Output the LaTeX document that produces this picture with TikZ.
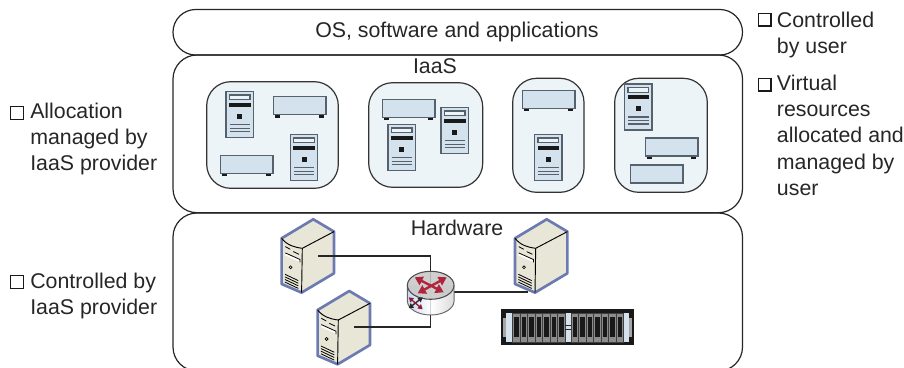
\documentclass[tikz,border=0pt]{standalone}
\usepackage{fontspec}
\setmainfont{Liberation Sans}
\usetikzlibrary{arrows.meta, calc}
\definecolor{lightVm}{RGB}{237, 244, 248}
\definecolor{lightBox}{RGB}{211, 226, 236}
\definecolor{darkBox}{RGB}{85, 97, 108}
\definecolor{darkSrv}{RGB}{108, 122, 178}
\definecolor{lightSrv}{RGB}{232, 230, 214}
\definecolor{darkArrow}{RGB}{176, 36, 60}
\tikzset{
  layerbox/.style={draw=black!85, line width=0.9pt, rounded corners=18pt},
  vmbox/.style={draw=black!80, fill=lightVm, line width=0.9pt, rounded corners=18pt},
  label/.style={font=\fontsize{16}{19.6}\selectfont, inner sep=0pt, text=black!85},
  note/.style={label, anchor=north west, align=left},
  tick/.style={draw=black!90, line width=1.1pt, minimum size=9.5pt, inner sep=0pt, anchor=north west},
  wire/.style={draw=black!85, line width=0.8pt},
  slab/.pic={
    \draw[draw=darkBox, fill=lightBox, line width=1.1pt] (-26.3,-9) rectangle (26.3,9);
  },
  slabfeet/.pic={
    \pic {slab};
    \fill[black!90] (-25.2,9.5) rectangle (-20.2,11.8);
    \fill[black!90] (19.2,9.5) rectangle (24.2,11.8);
  },
  tower/.pic={
    \draw[draw=darkBox, fill=lightBox, line width=1.1pt] (-13.7,-23) rectangle (13.7,23);
    \draw[draw=darkBox, fill=lightVm, line width=0.9pt] (-10.3,-19.7) rectangle (10.3,-14.9);
    \fill[black!90] (-10.6,-12) rectangle (11,-7.7);
    \fill[black!90] (-2.5,-0.8) rectangle (2.5,4.2);
    \foreach \ly in {10,13.6,17}
      \draw[draw=darkBox, line width=0.8pt] (-10,\ly) -- (10.3,\ly);
  },
  server/.pic={
    \path[draw=darkSrv, fill=lightSrv, line width=2pt, line join=round]
      (-20.7,-10) -- (11,-29) -- (31.7,-16.7) -- (31.7,25) -- (-0.7,44.3) -- (-20.7,35.7) -- cycle;
    \draw[black, line width=0.7pt] (-20.7,-10) .. controls (-15,-3) and (-8,-1) .. (0,0)
      -- (31.7,-16.7);
    \draw[black, line width=0.7pt] (0,0) -- (-0.7,44.3);
    \draw[black, line width=0.6pt] (-17,-1.7) -- (-12,1);
    \draw[black, line width=0.6pt] (-9,3.3) -- (-3.3,6);
    \draw[white, line width=1.6pt] (-17,6) -- (-2.3,12.6);
    \draw[black, line width=0.6pt] (-17,4.6) -- (-2.3,11.2) -- (-2.3,14);
    \draw[black, line width=0.5pt] (-11.7,19) circle [radius=1.1pt];
    \foreach \ly in {0,2.6,5.2,7.8}
      \draw[black, line width=0.6pt] (-17.3,26+\ly) -- (-4,32.3+\ly);
  },
  router/.pic={
    \path[left color=lightBox!90!blue, right color=black!18, middle color=white, opacity=0.8]
      (-23.3,0) -- (-23.3,15.7) arc[start angle=180, end angle=360, x radius=17.5pt, y radius=10.5pt]
      -- (23.3,0) -- cycle;
    \draw[draw=black!60, line width=0.7pt]
      (-23.3,0) -- (-23.3,15.7) arc[start angle=180, end angle=360, x radius=17.5pt, y radius=10.5pt]
      -- (23.3,0);
    \path[draw=black!70, fill=black!22, line width=0.8pt, fill opacity=0.85] (0,0) ellipse [x radius=17.5pt, y radius=10.5pt];
    \draw[darkArrow, line width=1.8pt, {Triangle[length=6pt,width=7pt]}-{Triangle[length=6pt,width=7pt]}] (-13,8) -- (16,-8);
    \draw[darkArrow, line width=1.8pt, {Triangle[length=6pt,width=7pt]}-{Triangle[length=6pt,width=7pt]}] (-16,-8) -- (13,7);
    \draw[black!85, line width=1pt, {Triangle[length=3.5pt,width=4pt]}-{Triangle[length=3.5pt,width=4pt]}] (-22,23) -- (-8,12);
    \draw[darkArrow!80!black, line width=1pt, {Triangle[length=3.5pt,width=4pt]}-{Triangle[length=3.5pt,width=4pt]}] (-22,12) -- (-8,24);
  },
  storage/.pic={
    \fill[black!90] (0,0) rectangle (132.5,36);
    \fill[lightBox] (5,3.3) rectangle (128,33);
    \fill[black!35] (1.7,9) rectangle (5,28);
    \fill[black!35] (128,9) rectangle (131.2,28);
    \foreach \gx in {11.3,70}
      \foreach \dn in {0,...,6} {
        \draw[draw=black!75, fill=black!45, line width=0.4pt] ({\gx+\dn*7.5},4) rectangle ++(7.5,29.4);
        \fill[black!90] ({\gx+\dn*7.5+1.5},7.4) rectangle ++(4.5,20.6);
      }
    \draw[black!85, line width=0.8pt] (64,16) -- (70,16);
    \draw[black!85, line width=0.8pt] (64,20.4) -- (70,20.4);
  }
}

\begin{document}
\begin{tikzpicture}[x=0.75pt, y=-0.75pt]
  \useasboundingbox (0,0) rectangle (904,368);

  \draw[layerbox, rounded corners=17pt] (173,9.5) rectangle (742.5,55);
  \draw[layerbox] (173,55) rectangle (742.5,212.7);
  \draw[layerbox] (173,213) rectangle (742.5,371);

  \node[label] (osLabel) at (457,32) {OS, software and applications};
  \node[label] (iaasLabel) at (435,66) {IaaS};
  \node[label] (hwLabel) at (457,228) {Hardware};

  \draw[vmbox] (206.7,81.7) rectangle (338.3,188.3);
  \draw[vmbox] (368.7,82.7) rectangle (482.7,187.3);
  \draw[vmbox] (512.7,78.3) rectangle (584,192.3);
  \draw[vmbox] (614.7,78.3) rectangle (707.3,192.3);

  \foreach \px/\py in {239.7/114.7, 304/157.7, 401.7/147.7, 454.7/130.7, 548.3/157.7, 638.3/107}
    \pic at (\px,\py) {tower};
  \foreach \px/\py in {299.7/105.7, 246.7/164.3, 408.7/108.3, 548.7/99.3, 671.7/147}
    \pic at (\px,\py) {slabfeet};
  \pic at (656.7,174) {slab};

  \coordinate (router) at (430.7,285.3);
  \coordinate (routerEast) at (454,292);
  \coordinate (portA) at (318,256);
  \coordinate (portB) at (354,327);
  \coordinate (portC) at (528,292);

  \pic at (302.3,248.3) {server};
  \pic at (338.3,320) {server};
  \pic at (535.7,248.3) {server};
  \pic at (501.2,309.3) {storage};

  \draw[wire] (portA) -| (router) |- (portB);
  \draw[wire] (routerEast) -- (portC);
  \pic at (router) {router};

  \node[tick] (tickA) at (757.5,12.7) {};
  \node[note] (noteA) at (776.7,12) {Controlled\\by user};
  \node[tick] (tickB) at (757.5,77.5) {};
  \node[note] (noteB) at (776.7,75) {Virtual\\resources\\allocated and\\managed by\\user};
  \node[tick] (tickC) at (10,106) {};
  \node[note] (noteC) at (30,103) {Allocation\\managed by\\IaaS provider};
  \node[tick] (tickD) at (10,275) {};
  \node[note] (noteD) at (30,272.5) {Controlled by\\IaaS provider};
\end{tikzpicture}
\end{document}
